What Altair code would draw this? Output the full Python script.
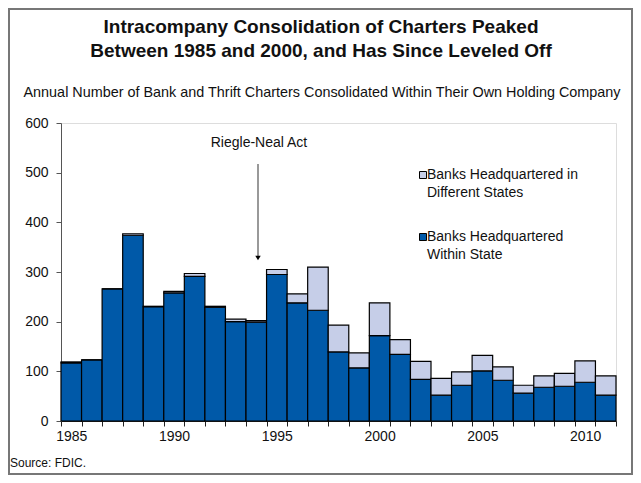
import altair as alt
import pandas as pd

years = list(range(1985, 2012))
within_state = [117, 123, 266, 374, 230, 258, 291, 229, 200, 199, 295, 238, 223, 139,
                107, 172, 134, 84, 52, 72, 101, 82, 56, 68, 70, 78, 52]
different_states = [2, 0, 0, 3, 1, 3, 6, 2, 5, 3, 10, 18, 87, 54,
                    30, 66, 30, 36, 34, 27, 31, 27, 16, 23, 26, 43, 39]

cat_within = "Banks Headquartered Within State"
cat_diff = "Banks Headquartered in Different States"

rows = []
for y, w, d in zip(years, within_state, different_states):
    rows.append({"year": y, "series": cat_within, "value": w, "order": 0})
    rows.append({"year": y, "series": cat_diff, "value": d, "order": 1})
df = pd.DataFrame(rows)

FONT = "Liberation Sans, Arial, Helvetica, sans-serif"
DARK = "#0059A8"
LIGHT = "#C6CEE8"

bars = alt.Chart(df).mark_bar(stroke="black", strokeWidth=1.2).encode(
    x=alt.X("year:O",
            scale=alt.Scale(paddingInner=0, paddingOuter=0),
            axis=alt.Axis(title=None, labelAngle=0, tickBand="extent",
                          labelExpr="datum.value % 5 == 0 ? datum.label : ''",
                          labelFontSize=14, labelFont=FONT, labelColor="#111",
                          tickSize=5, labelPadding=3, domainColor="#222",
                          tickColor="#222", labelOverlap=False)),
    y=alt.Y("value:Q", stack="zero",
            scale=alt.Scale(domain=[0, 600], nice=False),
            axis=alt.Axis(title=None, values=[0, 100, 200, 300, 400, 500, 600],
                          grid=False, labelFontSize=14, labelFont=FONT,
                          labelColor="#111", tickSize=5, labelPadding=8,
                          domainColor="#555", tickColor="#555")),
    color=alt.Color("series:N",
                    scale=alt.Scale(domain=[cat_diff, cat_within], range=[LIGHT, DARK]),
                    legend=None),
    order=alt.Order("order:Q"),
)

one = pd.DataFrame({"k": [0]})
base = alt.Chart(one)

def txt(s, x, y, size=14, align="left", weight="normal"):
    return base.mark_text(text=s, font=FONT, fontSize=size, align=align,
                          baseline="middle", fontWeight=weight, color="#111").encode(
        x=alt.value(x), y=alt.value(y))

legend_items = [
    (LIGHT, 52, ["Banks Headquartered in", "Different States"]),
    (DARK, 114, ["Banks Headquartered", "Within State"]),
]
legend_layers = []
for col, yy, lines in legend_items:
    legend_layers.append(base.mark_square(size=49, fill=col, stroke="black",
                                          strokeWidth=1, opacity=1).encode(
        x=alt.value(362), y=alt.value(yy)))
    for i, ln in enumerate(lines):
        legend_layers.append(txt(ln, 366, yy + 18 * i))

title1 = txt("Intracompany Consolidation of Charters Peaked", 260, -96, size=19,
             align="center", weight="bold")
title2 = txt("Between 1985 and 2000, and Has Since Leveled Off", 260, -72, size=19,
             align="center", weight="bold")
subtitle = txt("Annual Number of Bank and Thrift Charters Consolidated Within Their Own Holding Company",
               261, -30, size=14.4, align="center")

annot = txt("Riegle-Neal Act", 198, 20, align="center")
arrow_line = base.mark_rule(color="#777", strokeWidth=1.5).encode(
    x=alt.value(197), y=alt.value(41), y2=alt.value(133))
arrow_head = base.mark_point(shape="triangle-down", filled=True, color="black",
                             size=30, opacity=1).encode(
    x=alt.value(197), y=alt.value(135))
source = txt("Source: FDIC.", -51, 340, size=12)
frame = base.mark_rect(filled=False, stroke="#777", strokeWidth=2).encode(
    x=alt.value(-52), x2=alt.value(571), y=alt.value(-114), y2=alt.value(351))

chart = alt.layer(frame, bars, title1, title2, subtitle, annot, arrow_line, arrow_head,
                  source, *legend_layers).properties(
    width=555, height=298,
    autosize=alt.AutoSizeParams(type="none"),
    padding={"left": 53, "top": 115, "right": 17, "bottom": 54},
).configure_view(stroke=None).configure(background="white")

chart.save("out.html", embed_options={"renderer": "svg", "actions": False})
